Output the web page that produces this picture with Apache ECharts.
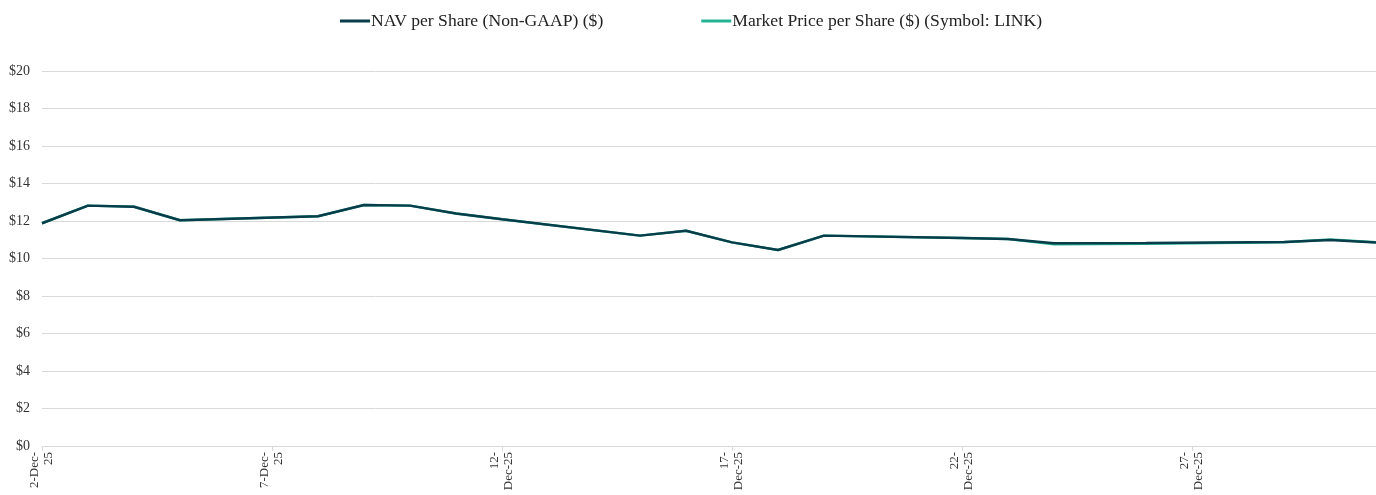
<!DOCTYPE html>
<html>
<head>
<meta charset="utf-8">
<script src="https://cdn.jsdelivr.net/npm/echarts@6/dist/echarts.min.js"></script>
<style>
  html, body { margin: 0; padding: 0; background: #fff; }
  #chart { width: 1376px; height: 495px; }
</style>
</head>
<body>
<div id="chart"></div>
<script>
// dates on the axis, 2-Dec-25 .. 31-Dec-25 (null = no value that day)
var dates = [];
for (var d = 2; d <= 31; d++) dates.push(d + '-Dec-25');

var navValues = [
  11.88, 12.82, 12.76, 12.04, null, null, 12.25, 12.85, 12.82, 12.40,
  12.09, null, null, 11.22, 11.48, 10.86, 10.45, 11.22, null, null,
  11.09, 11.04, 10.81, null, 10.83, null, null, 10.88, 10.99, 10.85
];
var marketValues = [
  11.88, 12.82, 12.76, 12.04, null, null, 12.25, 12.85, 12.82, 12.40,
  12.09, null, null, 11.22, 11.48, 10.86, 10.45, 11.22, null, null,
  11.09, 11.04, 10.76, null, 10.79, null, null, 10.87, 11.01, 10.86
];
var yTicks = [0, 2, 4, 6, 8, 10, 12, 14, 16, 18, 20];

var navColor = '#0a3d4a';
var mktColor = '#26b394';

var chart = echarts.init(document.getElementById('chart'));
var option = {
  animation: false,
  textStyle: { fontFamily: '"Liberation Serif", "Times New Roman", serif' },
  legend: {
    top: 7,
    left: 335,
    itemGap: 98,
    itemWidth: 30,
    itemHeight: 3,
    icon: 'rect',
    textStyle: { fontSize: 17.6, color: '#222', padding: [0, 0, 0, -4] },
    data: ['NAV per Share (Non-GAAP) ($)', 'Market Price per Share ($) (Symbol: LINK)']
  },
  grid: { left: 42, right: -4, top: 71, bottom: 49 },
  xAxis: {
    type: 'category',
    data: dates,
    boundaryGap: false,
    axisLine: { lineStyle: { color: '#d9d9d9' } },
    axisTick: { interval: 4, length: 5, lineStyle: { color: '#d9d9d9' } },
    axisLabel: {
      interval: 4,
      rotate: 90,
      fontSize: 13,
      color: '#333',
      margin: 6,
      lineHeight: 14,
      formatter: function (v) {
        var p = v.split('-');
        if (p[0].length === 1) return p[0] + '-' + p[1] + '-\n' + p[2];
        return p[0] + '-\n' + p[1] + '-' + p[2];
      }
    }
  },
  yAxis: {
    type: 'value',
    min: yTicks[0],
    max: yTicks[yTicks.length - 1],
    interval: 2,
    axisLine: { show: false },
    axisTick: { show: false },
    splitLine: { lineStyle: { color: '#d9d9d9' } },
    axisLabel: { fontSize: 14, color: '#333', margin: 12, formatter: function (v) { return '$' + v; } }
  },
  series: [
    {
      name: 'Market Price per Share ($) (Symbol: LINK)',
      type: 'line',
      data: marketValues,
      connectNulls: true,
      showSymbol: false,
      color: mktColor,
      lineStyle: { width: 2.5, color: mktColor }
    },
    {
      name: 'NAV per Share (Non-GAAP) ($)',
      type: 'line',
      data: navValues,
      connectNulls: true,
      showSymbol: false,
      color: navColor,
      lineStyle: { width: 2.5, color: navColor }
    }
  ]
};
chart.setOption(option);
</script>
</body>
</html>
